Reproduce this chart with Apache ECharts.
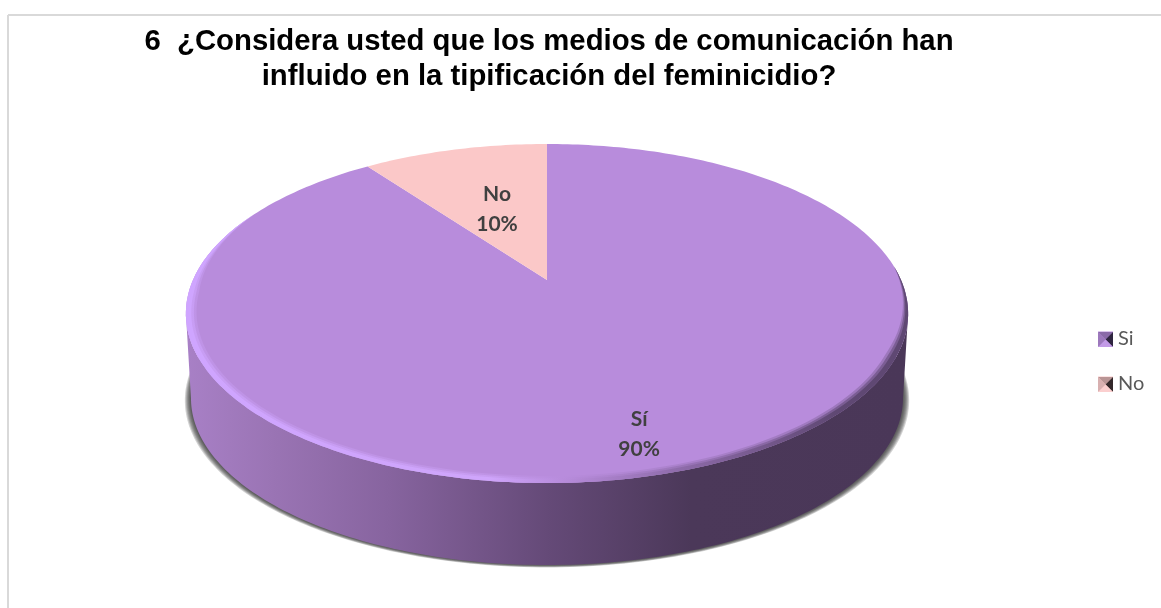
<!DOCTYPE html>
<html>
<head>
<meta charset="utf-8">
<style>
  html, body { margin: 0; padding: 0; background: #fff; }
  #chart { width: 1161px; height: 608px; }
</style>
</head>
<body>
<div id="chart"></div>
<script src="https://cdn.jsdelivr.net/npm/echarts@6/dist/echarts.min.js"></script>
<script>
const titleLines = [
  '6  ¿Considera usted que los medios de comunicación han',
  'influido en la tipificación del feminicidio?'
];
const categories = ['Si', 'No'];
const sliceNames = ['Sí', 'No'];
const values = [90, 10];

const total = values.reduce((a, b) => a + b, 0);
const startValues = values.map((v, i) => values.slice(0, i).reduce((a, b) => a + b, 0));

// the pie is tilted with some perspective, so the hub sits above the middle of the ellipse
const CX = 547;
const PERSPECTIVE = 0.1976;
const TOP_FACE = { b: 354, a: 162.9, y0: 280 };
const BOTTOM_FACE = { b: 349, a: 160.5, y0: 365 };
const LABEL_RADIUS = [0.826, 0.5];
const LABEL_SHIFT = [2.6, 0];

function project(deg, r, face) {
  const t = deg * Math.PI / 180;
  const u = r * Math.sin(t);
  const v = r * Math.cos(t);
  const w = 1 + PERSPECTIVE * v;
  return [CX + face.b * u / w, face.y0 - face.a * v / w];
}

function arc(from, to, r, face) {
  const pts = [];
  const n = Math.max(2, Math.ceil(Math.abs(to - from)));
  for (let i = 0; i <= n; i++) {
    pts.push(project(from + (to - from) * i / n, r, face));
  }
  return pts;
}

function hGradient(stops) {
  return { type: 'linear', global: true, x: 186, y: 0, x2: 908, y2: 0, colorStops: stops };
}

const wallGradient = hGradient([
  { offset: 0, color: '#a880c6' },
  { offset: 0.12, color: '#9a74b4' },
  { offset: 0.28, color: '#87649f' },
  { offset: 0.5, color: '#654a78' },
  { offset: 0.7, color: '#4b3859' },
  { offset: 1, color: '#4a3758' }
]);
const rimGradient = hGradient([
  { offset: 0, color: '#cfa5ff' },
  { offset: 0.42, color: '#cfa5fb' },
  { offset: 0.52, color: '#b88cdc' },
  { offset: 0.7, color: '#8a68a5' },
  { offset: 0.9, color: '#5f4873' },
  { offset: 1, color: '#5f4873' }
]);

// stacked see-through copies of the base give the soft drop shadow
function shadowElements() {
  return [[6, 2.4], [5, 2], [4, 1.6], [3, 1.2], [2, 0.8], [1, 0.4]].map(function (step) {
    const face = { b: BOTTOM_FACE.b + step[0], a: BOTTOM_FACE.a, y0: BOTTOM_FACE.y0 + step[1] };
    return {
      type: 'polygon',
      shape: { points: arc(85, 275, 1, face) },
      style: { fill: 'rgba(50,50,50,0.22)' }
    };
  });
}

function wallElement() {
  const top = arc(101.4, 258.6, 1, TOP_FACE);
  const bottom = arc(258.6, 101.4, 1, BOTTOM_FACE);
  return {
    type: 'polygon',
    shape: { points: top.concat(bottom) },
    style: { fill: wallGradient }
  };
}

// soft bevel along the front edge of the top face
function rimElements() {
  const from = 85;
  const to = 296;
  const out = [];
  [[10, 0.3], [7.5, 0.55], [5, 1]].forEach(function (layer) {
    const outer = arc(from, to, 1, TOP_FACE);
    const inner = [];
    for (let d = to; d >= from; d -= 2) {
      const fade = Math.min(1, Math.min(d - from, to - d) / 30);
      inner.push(project(d, 1 - layer[0] * fade / 354, TOP_FACE));
    }
    out.push({
      type: 'polygon',
      shape: { points: outer.concat(inner) },
      style: { fill: rimGradient, opacity: layer[1] }
    });
  });
  return out;
}

function renderSlice(index, color) {
  return function () {
    const from = startValues[index] / total * 360;
    const to = (startValues[index] + values[index]) / total * 360;
    const mid = (from + to) / 2 + LABEL_SHIFT[index];
    const labelPos = project(mid, LABEL_RADIUS[index], TOP_FACE);
    const children = [];
    if (index === 0) {
      shadowElements().forEach(function (el) { children.push(el); });
      children.push(wallElement());
    }
    children.push({
      type: 'polygon',
      shape: { points: [project(0, 0, TOP_FACE)].concat(arc(from, to, 1, TOP_FACE)) },
      style: { fill: color }
    });
    if (index === 0) {
      rimElements().forEach(function (el) { children.push(el); });
    }
    children.push({
      type: 'text',
      x: labelPos[0],
      y: labelPos[1] + 0.5,
      style: {
        text: sliceNames[index] + '\n' + Math.round(values[index] / total * 100) + '%',
        fill: '#404040',
        font: 'bold 21px Lato, sans-serif',
        lineHeight: 30,
        align: 'center',
        verticalAlign: 'middle'
      }
    });
    return { type: 'group', children: children };
  };
}

const sliceColors = ['#b88cdc', '#fbc8c8'];

// legend keys have a little pyramid look, four shaded triangles on top of the legend icon
function legendKey(x, y, shades) {
  const s = 15;
  const c = [x + s / 2, y + s / 2];
  const corners = [[x, y], [x + s, y], [x + s, y + s], [x, y + s]];
  return shades.map(function (fill, i) {
    return {
      type: 'polygon',
      silent: true,
      z: 100,
      shape: { points: [corners[i], corners[(i + 1) % 4], c] },
      style: { fill: fill }
    };
  });
}

const chart = echarts.init(document.getElementById('chart'));

chart.setOption({
  backgroundColor: '#ffffff',
  animation: false,
  title: {
    text: titleLines.join('\n'),
    left: 544,
    top: 19,
    textAlign: 'center',
    textStyle: {
      fontFamily: 'Liberation Sans',
      fontWeight: 'bold',
      fontSize: 29.3,
      lineHeight: 35,
      color: '#000000'
    }
  },
  legend: {
    data: categories.map(function (name, i) {
      return { name: name, itemStyle: { color: sliceColors[i] } };
    }),
    orient: 'vertical',
    left: 1098,
    top: 327,
    padding: 0,
    itemWidth: 15,
    itemHeight: 15,
    itemGap: 21,
    icon: 'rect',
    selectedMode: false,
    textStyle: { fontFamily: 'Lato', fontSize: 20, lineHeight: 24, color: '#595959' }
  },
  graphic: [
    { type: 'line', shape: { x1: 8, y1: 15, x2: 1161, y2: 15 }, style: { stroke: '#d9d9d9', lineWidth: 2 } },
    { type: 'line', shape: { x1: 8, y1: 15, x2: 8, y2: 608 }, style: { stroke: '#d9d9d9', lineWidth: 2 } }
  ]
    .concat(legendKey(1098, 332, ['#8a6aa8', '#2f2540', '#c29ae6', '#9c78bc']))
    .concat(legendKey(1098, 377, ['#b99595', '#33282a', '#fbcfcf', '#d8b0b0'])),
  series: categories.map(function (name, i) {
    return {
      name: name,
      type: 'custom',
      coordinateSystem: 'none',
      silent: true,
      data: [values[i]],
      itemStyle: { color: sliceColors[i] },
      renderItem: renderSlice(i, sliceColors[i])
    };
  })
});

window.addEventListener('resize', function () { chart.resize(); });
</script>
</body>
</html>
